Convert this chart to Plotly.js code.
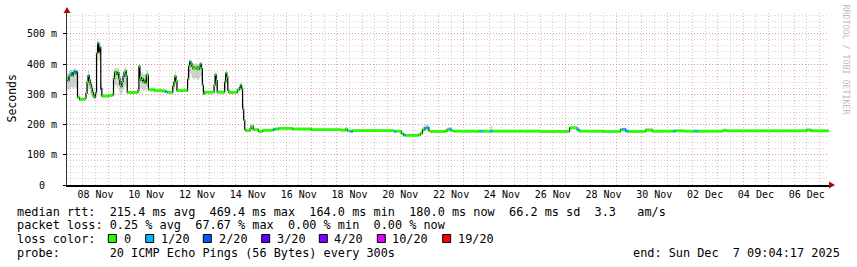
<!DOCTYPE html>
<html><head><meta charset="utf-8">
<script src="https://cdn.plot.ly/plotly-3.0.1.min.js"></script>
<style>html,body{margin:0;padding:0;background:#fff;}#chart{width:857px;height:267px;}</style>
</head><body><div id="chart"></div>
<script>
const startTime = '2025-11-07 09:04:17';
const endTime = '2025-12-07 09:04:17';

const times = [
'2025-11-07 09:04','2025-11-07 10:00','2025-11-07 11:00','2025-11-07 12:00','2025-11-07 13:00','2025-11-07 14:00','2025-11-07 15:00','2025-11-07 16:00','2025-11-07 17:00','2025-11-07 18:00','2025-11-07 19:00','2025-11-07 21:00',
'2025-11-08 02:00','2025-11-08 03:00','2025-11-08 04:00','2025-11-08 05:00','2025-11-08 06:00','2025-11-08 07:00','2025-11-08 08:00','2025-11-08 09:00','2025-11-08 10:00','2025-11-08 11:00','2025-11-08 12:00','2025-11-08 13:00','2025-11-08 14:00','2025-11-08 15:00','2025-11-08 16:00','2025-11-08 17:00','2025-11-08 18:00',
'2025-11-09 00:00','2025-11-09 04:00','2025-11-09 05:00','2025-11-09 06:00','2025-11-09 08:00','2025-11-09 09:00','2025-11-09 10:00','2025-11-09 11:00','2025-11-09 12:00','2025-11-09 13:00','2025-11-09 14:00','2025-11-09 15:00','2025-11-09 16:00','2025-11-09 17:00','2025-11-09 18:00',
'2025-11-10 04:00','2025-11-10 05:00','2025-11-10 06:00','2025-11-10 07:00','2025-11-10 08:00','2025-11-10 09:00','2025-11-10 10:00','2025-11-10 11:00','2025-11-10 12:00','2025-11-10 14:00','2025-11-10 20:00',
'2025-11-11 03:00','2025-11-11 06:00','2025-11-11 08:00','2025-11-11 13:00','2025-11-11 14:00','2025-11-11 15:00','2025-11-11 16:00','2025-11-11 17:00',
'2025-11-12 03:00','2025-11-12 04:00','2025-11-12 05:00','2025-11-12 06:00','2025-11-12 07:00','2025-11-12 08:00','2025-11-12 10:00','2025-11-12 12:00','2025-11-12 14:00','2025-11-12 15:00','2025-11-12 16:00','2025-11-12 17:00','2025-11-12 18:00','2025-11-12 19:00',
'2025-11-13 04:00','2025-11-13 05:00','2025-11-13 06:00','2025-11-13 07:00','2025-11-13 14:00','2025-11-13 15:00','2025-11-13 16:00','2025-11-13 17:00','2025-11-13 18:00',
'2025-11-14 02:00','2025-11-14 04:00','2025-11-14 05:00','2025-11-14 06:00','2025-11-14 07:00','2025-11-14 08:00','2025-11-14 09:00','2025-11-14 10:00','2025-11-14 14:00','2025-11-14 15:00','2025-11-14 17:00','2025-11-14 22:00',
'2025-11-15 02:00','2025-11-15 12:00','2025-11-15 14:00','2025-11-15 17:00','2025-11-16 06:00','2025-11-17 00:00','2025-11-18 04:00','2025-11-18 08:00','2025-11-18 10:00','2025-11-18 13:00','2025-11-18 15:00',
'2025-11-20 06:00','2025-11-20 08:00','2025-11-20 13:00','2025-11-20 15:00','2025-11-20 17:00','2025-11-21 05:00','2025-11-21 07:00','2025-11-21 09:00','2025-11-21 11:00','2025-11-21 13:00','2025-11-21 15:00','2025-11-21 16:00',
'2025-11-22 06:00','2025-11-22 08:00','2025-11-22 10:00','2025-11-22 12:00','2025-11-22 14:00','2025-11-23 15:00','2025-11-23 18:00','2025-11-24 01:00','2025-11-24 03:00','2025-11-26 00:00',
'2025-11-27 04:00','2025-11-27 11:00','2025-11-27 13:00','2025-11-28 12:00','2025-11-29 04:00','2025-11-29 06:00','2025-11-29 09:00','2025-11-29 12:00','2025-11-30 04:00','2025-11-30 10:00',
'2025-12-01 06:00','2025-12-01 08:00','2025-12-01 16:00','2025-12-02 02:00','2025-12-02 05:00','2025-12-03 05:00','2025-12-03 08:00','2025-12-06 12:00','2025-12-06 16:00'
];

const medianMs = [
352,345,360,364,370,362,372,376,368,374,290,283,
287,303,340,362,346,333,320,306,295,290,305,435,469,440,455,318,294,
296,298,352,374,366,372,352,332,325,342,358,372,377,360,306,
312,392,356,346,352,340,346,338,364,315,312,
311,308,306,326,340,360,344,312,
350,392,408,402,393,385,390,383,392,400,385,330,302,307,
330,365,345,307,340,370,358,313,306,
315,322,330,318,252,215,184,180,186,194,183,177,
181,184,185,187,185,183,181,184,179,177,180,
177,178,170,165,164,166,171,183,188,190,180,177,
178,183,185,180,178,178,178,178,178,177,
189,183,178,177,183,184,178,177,182,178,
178,179,178,178,178,181,179,182,179
];

const lossLevel = [
0,0,1,0,1,0,1,1,0,1,0,0,
0,0,0,1,0,0,0,0,0,0,0,0,0,6,1,3,0,
0,0,0,0,0,0,0,0,0,0,1,0,0,0,0,
0,0,0,0,0,0,0,0,0,0,0,
0,1,0,0,0,0,0,0,
0,0,1,0,0,0,0,0,0,1,0,0,0,0,
0,0,0,0,0,0,0,0,0,
0,1,0,0,0,0,0,0,0,0,0,0,
0,1,0,0,0,0,0,0,0,1,0,
1,0,0,1,0,0,0,0,1,1,0,0,
0,0,1,0,0,1,0,1,0,0,
0,1,0,0,0,1,1,0,0,0,
1,0,0,1,0,0,0,0,0
];

const smokeLowMs = [
318,312,318,320,325,318,322,325,318,320,285,279,
282,292,310,320,315,300,292,288,285,283,290,405,440,410,420,295,290,
292,293,320,330,322,325,310,300,298,305,315,325,330,318,302,
306,345,320,315,318,312,315,310,325,309,307,
306,304,302,310,318,330,320,308,
330,360,370,365,355,350,352,348,355,360,345,310,298,302,
312,335,320,302,318,338,330,306,301,
308,312,316,305,240,205,180,176,181,185,179,174,
177,180,181,183,181,179,177,178,175,173,176,
173,174,166,161,160,162,166,176,180,182,176,173,
174,177,180,176,174,174,174,174,174,173,
185,179,174,173,179,180,174,173,178,174,
174,175,174,174,174,177,175,178,175
];

const smokeHighMs = [
372,370,378,380,382,380,384,386,382,385,296,288,
292,315,360,378,365,352,342,330,318,305,320,455,482,470,472,340,299,
300,303,372,388,384,386,375,360,352,365,378,386,390,382,311,
320,400,378,370,372,365,368,362,378,322,318,
317,314,311,340,355,372,360,318,
370,405,415,412,405,400,402,398,404,408,398,350,308,312,
345,372,362,313,355,378,372,322,311,
322,332,338,328,265,228,190,186,192,200,188,182,
186,189,190,192,190,188,186,192,184,182,185,
182,183,176,170,169,171,178,194,198,198,186,182,
183,190,190,185,183,183,183,196,183,182,
194,188,183,182,188,189,183,182,187,183,
183,184,183,183,183,186,184,187,184
];

const lossColors = ['#26ff00','#00b8ff','#0059ff','#5e00ff','#7e00ff','#dd00ff','#ff0000'];
const lossLabels = ['0','1/20','2/20','3/20','4/20','10/20','19/20'];

const yTickVals = [0,100,200,300,400,500];
const yTickText = ['0\u00a0\u00a0','100 m','200 m','300 m','400 m','500 m'];
const xLabelDates = ['2025-11-08 12:00','2025-11-10 12:00','2025-11-12 12:00','2025-11-14 12:00','2025-11-16 12:00','2025-11-18 12:00','2025-11-20 12:00','2025-11-22 12:00','2025-11-24 12:00','2025-11-26 12:00','2025-11-28 12:00','2025-11-30 12:00','2025-12-02 12:00','2025-12-04 12:00','2025-12-06 12:00'];
const xLabelText = ['08 Nov','10 Nov','12 Nov','14 Nov','16 Nov','18 Nov','20 Nov','22 Nov','24 Nov','26 Nov','28 Nov','30 Nov','02 Dec','04 Dec','06 Dec'];

const statsRtt = 'median rtt:  215.4 ms avg  469.4 ms max  164.0 ms min  180.0 ms now  66.2 ms sd  3.3   am/s';
const statsLoss = 'packet loss: 0.25 % avg  67.67 % max  0.00 % min  0.00 % now';
const lossTitle = 'loss color:';
const probeText = 'probe:       20 ICMP Echo Pings (56 Bytes) every 300s';
const endText = 'end: Sun Dec  7 09:04:17 2025';
const creditText = 'RRDTOOL / TOBI OETIKER';

// ---- drawing ----
const MONO = 'DejaVu Sans Mono, monospace';
const nb = s => s.replace(/ /g, '\u00a0');
const toMs = s => Date.parse(s.replace(' ', 'T') + 'Z');
const tEnd = toMs(endTime);
const widths = times.map((t, i) => (i < times.length - 1 ? toMs(times[i + 1]) : tEnd) - toMs(t));
const xs = times.concat([endTime]);
const ext = a => a.concat([a[a.length - 1]]);

const traces = [
  {type:'scatter', mode:'lines', x:xs, y:ext(smokeLowMs), line:{shape:'hv', width:0}, hoverinfo:'skip', showlegend:false},
  {type:'scatter', mode:'lines', x:xs, y:ext(smokeHighMs), line:{shape:'hv', width:0}, fill:'tonexty', fillcolor:'rgba(165,165,165,0.5)', hoverinfo:'skip', showlegend:false},
  {type:'scatter', mode:'lines', x:xs, y:ext(medianMs), line:{shape:'hv', width:1.2, color:'#000'}, hoverinfo:'skip', showlegend:false},
  {type:'bar', xaxis:'x2', x:times, base:medianMs.map(v => v - 4.5), y:medianMs.map(() => 9), width:widths, offset:0,
   marker:{color:lossLevel.map(l => lossColors[l]), line:{width:0}}, hoverinfo:'skip', showlegend:false}
];

const GRIDMAJ = 'rgba(235,60,60,0.42)';
const GRIDMIN = 'rgba(110,110,110,0.30)';

const annotations = [];
const addText = (text, px, py, opts) => annotations.push(Object.assign({
  text:nb(text), xref:'paper', yref:'paper', x:0, y:0, xanchor:'left', yanchor:'middle',
  xshift:px - 67, yshift:185.5 - py, showarrow:false, borderpad:0,
  font:{family:MONO, size:11.85, color:'#000'}
}, opts || {}));

addText(statsRtt, 16, 212);
addText(statsLoss, 16, 225.5);
addText(lossTitle, 16, 239);
const sqX = [108.3, 145.7, 203.3, 261.7, 319.3, 377.3, 442.7];
const lblX = [122.5, 159.5, 217.5, 275.5, 333, 391, 456.5];
const shapes = [];
lossColors.forEach((c, i) => {
  shapes.push({type:'rect', xref:'paper', yref:'paper', xsizemode:'pixel', ysizemode:'pixel', xanchor:0, yanchor:0,
    x0:sqX[i] - 67, x1:sqX[i] - 67 + 8, y0:185.5 - 243, y1:185.5 - 235, fillcolor:c, line:{color:'#000', width:1}});
  addText(lossLabels[i], lblX[i], 239);
});
addText(probeText, 16, 253);
addText(endText, 840.5, 253, {xanchor:'right'});
addText('Seconds', 11, 99, {textangle:-90, xanchor:'center', font:{family:MONO, size:11.5, color:'#000'}});
addText(creditText, 846, 60, {textangle:90, xanchor:'center', font:{family:MONO, size:8.3, color:'#bcbcbc'}});

// arrows
shapes.push({type:'path', xref:'paper', yref:'paper', xsizemode:'pixel', ysizemode:'pixel', xanchor:0, yanchor:1,
  path:'M -3.5,0 L 3.5,0 L 0,6 Z', fillcolor:'#a01010', line:{width:0}});
shapes.push({type:'path', xref:'paper', yref:'paper', xsizemode:'pixel', ysizemode:'pixel', xanchor:1, yanchor:0,
  path:'M 0,-3.5 L 0,3.5 L 6,0 Z', fillcolor:'#a01010', line:{width:0}});

const layout = {
  width:857, height:267,
  margin:{l:67, r:28, t:13, b:81.5, pad:0},
  paper_bgcolor:'#fff', plot_bgcolor:'#fff',
  showlegend:false, barmode:'overlay',
  font:{family:MONO, size:10, color:'#000'},
  xaxis:{type:'date', range:[startTime, endTime], showticklabels:false, ticks:'',
    tick0:'2025-11-08', dtick:86400000, showgrid:true, gridcolor:GRIDMAJ, griddash:'1px,2px', gridwidth:1,
    minor:{tick0:'2025-11-08', dtick:43200000, showgrid:true, gridcolor:GRIDMIN, griddash:'1px,2px', gridwidth:1, ticks:''},
    showline:true, linecolor:'#000', linewidth:1.5, zeroline:false, fixedrange:true},
  xaxis2:{type:'date', overlaying:'x', range:[startTime, endTime], side:'bottom', tickmode:'array',
    tickvals:xLabelDates, ticktext:xLabelText, showgrid:false, ticks:'', showline:false, zeroline:false,
    tickfont:{family:MONO, size:10, color:'#000'}, ticklabelstandoff:2},
  yaxis:{range:[0, 568.8], tickmode:'array', tickvals:yTickVals, ticktext:yTickText,
    showgrid:true, gridcolor:GRIDMAJ, griddash:'1px,2px', gridwidth:1,
    minor:{dtick:20, tick0:0, showgrid:true, gridcolor:GRIDMIN, griddash:'1px,2px', gridwidth:1},
    ticks:'outside', ticklen:3, tickcolor:'#000', ticklabelstandoff:4,
    tickfont:{family:MONO, size:10, color:'#000'},
    showline:true, linecolor:'#333', linewidth:1, zeroline:false, fixedrange:true},
  annotations:annotations,
  shapes:shapes
};

Plotly.newPlot('chart', traces, layout, {staticPlot:true, displayModeBar:false});
</script>
</body></html>
